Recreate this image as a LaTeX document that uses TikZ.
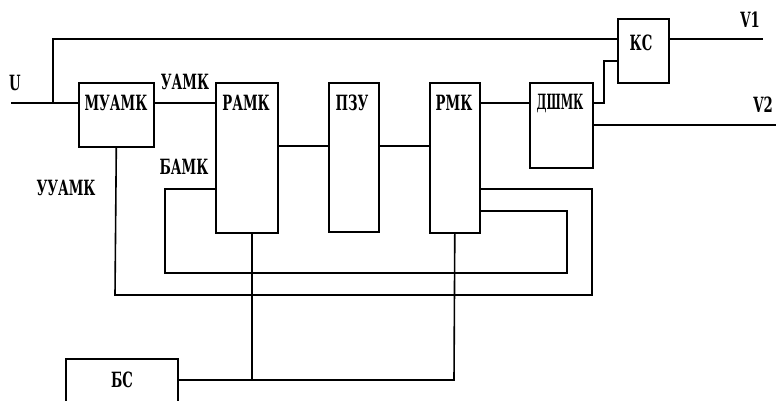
\documentclass[tikz,border=0pt]{standalone}
\usepackage{fontspec}
\setmainfont{Liberation Mono}
\newfontfamily\labfont[FakeStretch=0.63]{DejaVu Serif}
\begin{document}
\begin{tikzpicture}[x=1pt,y=-1pt,
  wire/.style={line width=1.6pt, line join=miter},
  blk/.style={draw, line width=1.6pt, anchor=north west, inner sep=0pt},
  txt/.style={font=\fontsize{21}{23}\labfont\bfseries, inner sep=0pt}]
\useasboundingbox (0,0) rectangle (776,401);
\clip (0,0) rectangle (776,401);
% blocks
\node[blk, minimum width=75pt, minimum height=64pt] (muamk) at (78,82) {};
\node[blk, minimum width=62pt, minimum height=150pt] (ramk) at (215,82) {};
\node[blk, minimum width=50pt, minimum height=149pt] (pzu) at (328,82) {};
\node[blk, minimum width=50pt, minimum height=150pt] (rmk) at (429,82) {};
\node[blk, minimum width=63pt, minimum height=85pt] (dsh) at (529,82) {};
\node[blk, minimum width=51pt, minimum height=64pt] (kc) at (617,18) {};
\node[blk, minimum width=112pt, minimum height=60pt] (bc) at (65,358) {};
% texts
\node[txt] (tu) at (15,83) {U};
\node[txt] (tv1) at (750,20) {V1};
\node[txt] (tv2) at (763,105) {V2};
\node[txt] (tuamk) at (185,82) {УАМК};
\node[txt] (tbamk) at (184,167) {БАМК};
\node[txt] (tuuamk) at (66,188) {УУАМК};
\node[txt] (lmuamk) at (116,103) {МУАМК};
\node[txt] (lramk) at (246,103) {РАМК};
\node[txt] (lpzu) at (352,103) {ПЗУ};
\node[txt] (lrmk) at (454,103) {РМК};
\node[txt] (ldsh) at (560,103) {\scalebox{0.85}[1]{ДШМК}};
\node[txt] (lkc) at (641,43) {КС};
\node[txt] (lbc) at (122,380) {БС};
% helper coordinates
\coordinate (uin) at (11,103);
\coordinate (j1) at (53,103);
\coordinate (v1) at (763,39);
\coordinate (v2) at (776,125);
\coordinate (ya) at (0,39);
\coordinate (yb) at (0,103);
\coordinate (yc) at (0,146);
\coordinate (yd) at (0,61);
\coordinate (yf) at (0,189);
\coordinate (yg) at (0,211);
\coordinate (k1) at (604,103);
\coordinate (b1) at (165,189);
\coordinate (b2) at (165,273);
\coordinate (b3) at (567,273);
\coordinate (b4) at (567,211);
\coordinate (u1) at (115,295);
\coordinate (u2) at (592,295);
\coordinate (u3) at (592,189);
\coordinate (r1) at (252,232);
\coordinate (r2) at (252,380);
\coordinate (r3) at (454,380);
% connectors
\draw[wire] (uin) -- (muamk.west |- yb);
\draw[wire] (j1) |- (kc.west |- ya);
\draw[wire] (kc.east |- ya) -- (v1);
\draw[wire] (muamk.east |- yb) -- (ramk.west |- yb);
\draw[wire] (ramk.east |- yc) -- (pzu.west |- yc);
\draw[wire] (pzu.east |- yc) -- (rmk.west |- yc);
\draw[wire] (rmk.east |- yb) -- (dsh.west |- yb);
\draw[wire] (dsh.east |- yb) -- (k1) |- (kc.west |- yd);
\draw[wire] (dsh.east |- v2) -- (v2);
\draw[wire] (ramk.west |- yf) -- (b1) -- (b2) -- (b3) -- (b4) -- (rmk.east |- yg);
\draw[wire] (muamk.south) -- (u1) -- (u2) -- (u3) -- (rmk.east |- yf);
\draw[wire] (r1) -- (r2);
\draw[wire] (bc.east |- r2) -- (r3) -- (rmk.south);
\end{tikzpicture}
\end{document}
